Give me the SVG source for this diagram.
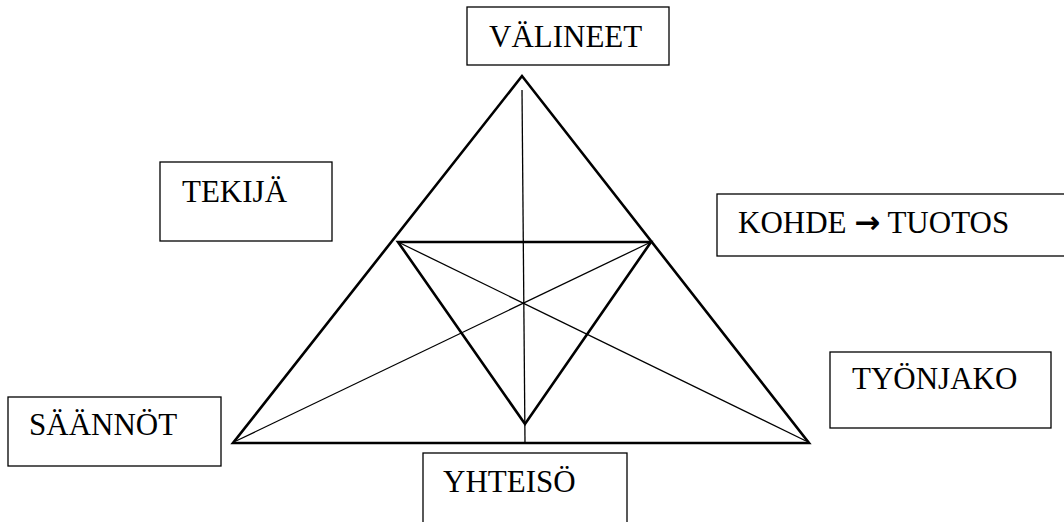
<svg xmlns="http://www.w3.org/2000/svg" width="1064" height="522" viewBox="0 0 1064 522">
<style>
.box{fill:#fff;stroke:#000;stroke-width:1.3}
.lbl{font-family:'Liberation Serif','Times New Roman',serif;font-size:31px;fill:#000}
.thick{stroke:#000;stroke-width:2.6;fill:none;stroke-linejoin:miter}
.thin{stroke:#000;stroke-width:1.3;fill:none}
.arr{font-family:'DejaVu Sans',sans-serif;font-weight:bold;font-size:31px}
</style>
<rect width="1064" height="522" fill="#fff"/>
<g id="connectors">
<polygon class="thick" points="522,76 233,443 809,443"/>
<polygon class="thick" points="398,242 651,242 525,424"/>
<line class="thin" x1="522" y1="90" x2="525" y2="442" stroke-width="1.6"/>
<line class="thin" x1="236" y1="441" x2="651" y2="242"/>
<line class="thin" x1="398" y1="242" x2="806" y2="441"/>
</g>
<g id="valineet"><rect class="box" x="467" y="7" width="202" height="58"/><text class="lbl" x="489" y="47">VÄLINEET</text></g>
<g id="tekija"><rect class="box" x="160" y="162" width="172" height="79"/><text class="lbl" x="182" y="202">TEKIJÄ</text></g>
<g id="kohde"><rect class="box" x="717" y="194" width="360" height="62"/><text class="lbl" x="738" y="233">KOHDE <tspan class="arr">→</tspan> TUOTOS</text></g>
<g id="saannot"><rect class="box" x="8" y="397" width="213" height="69"/><text class="lbl" x="29" y="435">SÄÄNNÖT</text></g>
<g id="yhteiso"><rect class="box" x="423" y="453" width="204" height="90"/><text class="lbl" x="443" y="492">YHTEISÖ</text></g>
<g id="tyonjako"><rect class="box" x="830" y="352" width="221" height="76"/><text class="lbl" x="852" y="389">TYÖNJAKO</text></g>
</svg>
